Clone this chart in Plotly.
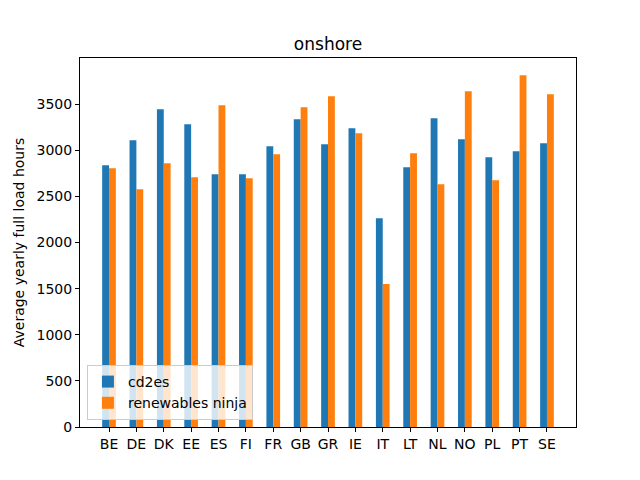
import plotly.graph_objects as go

countries = ["BE", "DE", "DK", "EE", "ES", "FI", "FR", "GB", "GR", "IE", "IT", "LT", "NL", "NO", "PL", "PT", "SE"]
cd2es = [2838, 3108, 3444, 3282, 2740, 2740, 3043, 3336, 3065, 3238, 2264, 2816, 3347, 3119, 2924, 2989, 3076]
ninja = [2805, 2578, 2859, 2708, 3487, 2697, 2957, 3466, 3585, 3184, 1549, 2968, 2632, 3639, 2675, 3812, 3607]
yticks = [0, 500, 1000, 1500, 2000, 2500, 3000, 3500]

xs = list(range(len(countries)))

fig = go.Figure()
fig.add_trace(go.Bar(x=xs, y=cd2es, name="cd2es", marker=dict(color="#1f77b4", line=dict(width=0))))
fig.add_trace(go.Bar(x=xs, y=ninja, name="renewables ninja", marker=dict(color="#ff7f0e", line=dict(width=0))))

font = "DejaVu Sans"
fig.update_layout(
    width=640, height=480,
    margin=dict(l=80, r=64, t=58, b=53),
    paper_bgcolor="white", plot_bgcolor="white",
    barmode="group", bargap=0.5, bargroupgap=0,
    font=dict(family=font, size=14, color="black"),
    title=dict(text="onshore", x=(80 + 248) / 640, xanchor="center", y=1 - 44 / 480, yanchor="middle",
               font=dict(family=font, size=17, color="black")),
    showlegend=True,
    legend=dict(x=0.014, y=0.019, xanchor="left", yanchor="bottom",
                bgcolor="rgba(255,255,255,0.8)", bordercolor="#cccccc", borderwidth=1,
                font=dict(family=font, size=14), tracegroupgap=0),
    xaxis=dict(range=[-1.06, 17.06], tickmode="array", tickvals=xs, ticktext=countries,
               showgrid=False, zeroline=False, showline=True, linecolor="black", linewidth=1, mirror=True,
               ticks="outside", ticklen=4, tickcolor="black"),
    yaxis=dict(range=[0, 4000], tickmode="array", tickvals=yticks, ticktext=[str(v) for v in yticks],
               showgrid=False, zeroline=False, showline=True, linecolor="black", linewidth=1, mirror=True,
               ticks="outside", ticklen=4, tickcolor="black",
               title=dict(text="Average yearly full load hours", font=dict(family=font, size=14), standoff=8)),
)

fig.write_html("out.html")
